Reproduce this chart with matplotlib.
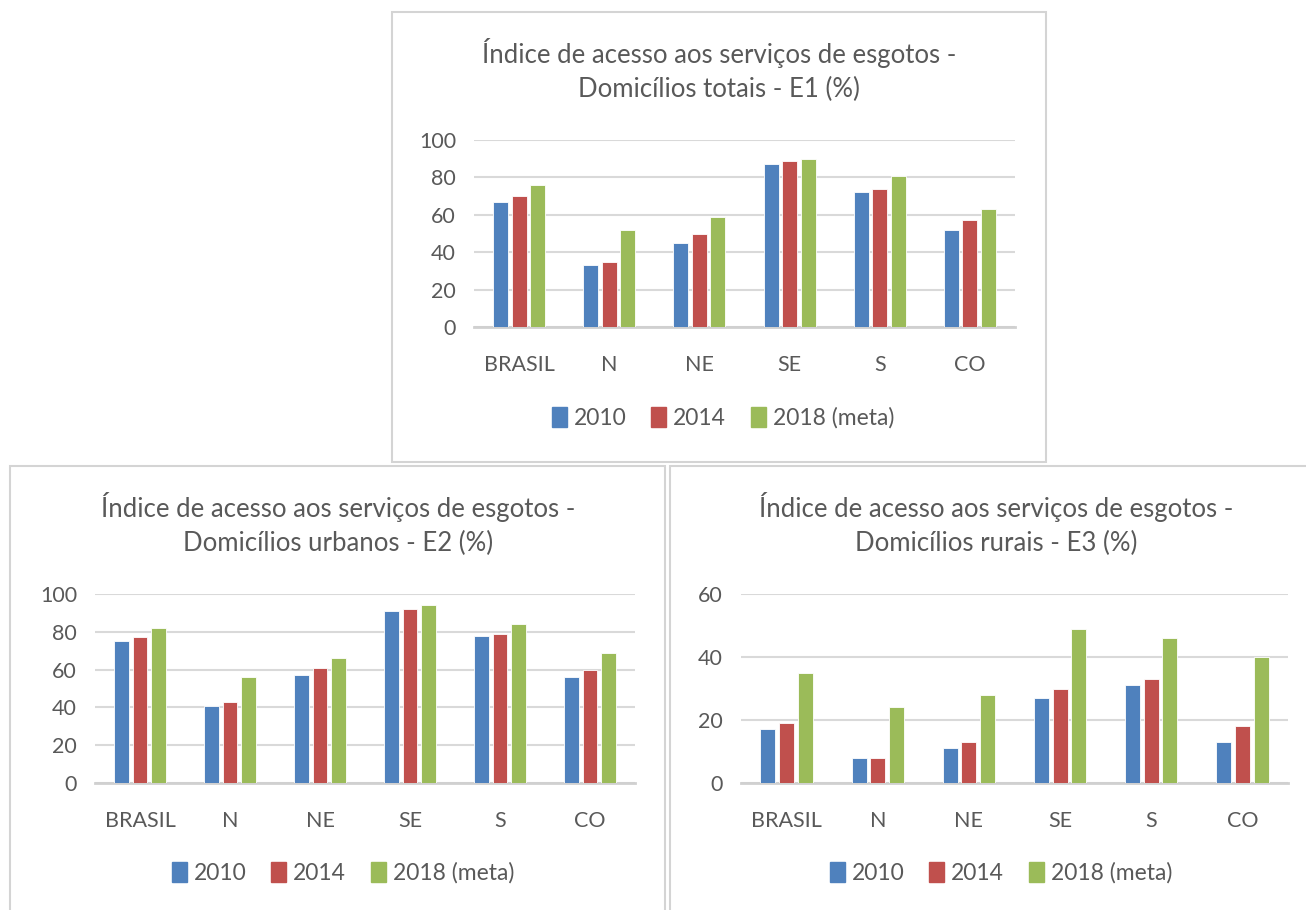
import matplotlib
matplotlib.use("Agg")
import matplotlib.pyplot as plt
from matplotlib.patches import Rectangle, Patch
import numpy as np

plt.rcParams['font.family'] = ['Lato', 'DejaVu Sans']

regions = ['BRASIL', 'N', 'NE', 'SE', 'S', 'CO']
series = ['2010', '2014', '2018 (meta)']
colors = ['#4F81BD', '#C0504D', '#9BBB59']

e1_2010 = [67, 33, 45, 87, 72, 52]
e1_2014 = [70, 35, 50, 89, 74, 57]
e1_2018 = [76, 52, 59, 90, 81, 63]

e2_2010 = [75, 41, 57, 91, 78, 56]
e2_2014 = [77, 43, 61, 92, 79, 60]
e2_2018 = [82, 56, 66, 94, 84, 69]

e3_2010 = [17, 8, 11, 27, 31, 13]
e3_2014 = [19, 8, 13, 30, 33, 18]
e3_2018 = [35, 24, 28, 49, 46, 40]

W, H = 1306, 910
TXT = '#595959'
fig = plt.figure(figsize=(W / 100, H / 100), dpi=100)


def px_axes(l, t, r, b):
    return fig.add_axes([l / W, 1 - b / H, (r - l) / W, (b - t) / H])


def panel_box(l, t, r, b):
    fig.patches.append(Rectangle((l / W, 1 - b / H), (r - l) / W, (b - t) / H,
                                 transform=fig.transFigure, fill=False,
                                 edgecolor='#d4d4d4', lw=1.5))


def draw(box, plot, title, data, ymax, step, cx, leg_xy):
    panel_box(*box)
    ax = px_axes(*plot)
    x = np.arange(len(regions))
    for i, vals in enumerate(data):
        ax.bar(x + (i - 1) * 0.205, vals, 0.165, color=colors[i],
               edgecolor='white', linewidth=0.6, label=series[i], zorder=3)
    ax.set_xlim(-0.5, len(regions) - 0.5)
    ax.set_ylim(0, ymax)
    ax.set_yticks(np.arange(0, ymax + 1, step))
    ax.set_xticks(x)
    ax.set_xticklabels(regions)
    ax.tick_params(length=0, labelsize=15.5, colors=TXT)
    ax.tick_params(axis='x', pad=20)
    ax.tick_params(axis='y', pad=13)
    ax.grid(axis='y', color='#d9d9d9', lw=1.5, zorder=0)
    for s in ['top', 'right', 'left']:
        ax.spines[s].set_visible(False)
    ax.spines['bottom'].set_color('#d0d0d0')
    ax.spines['bottom'].set_linewidth(2)
    l, t, r, b = box
    fig.text(cx / W, 1 - (t + 58) / H, title, ha='center', va='center',
             fontsize=18.5, color=TXT, linespacing=1.45)
    handles = [Patch(color=c) for c in colors]
    fig.legend(handles, series, loc='center', ncol=3, frameon=False,
               bbox_to_anchor=(leg_xy[0] / W, 1 - leg_xy[1] / H),
               fontsize=16.5, labelcolor=TXT,
               handlelength=0.65, handleheight=1.0, handletextpad=0.3,
               columnspacing=1.1)
    return ax


draw((392, 12, 1046, 462), (474, 140, 1015, 327),
     'Índice de acesso aos serviços de esgotos -\nDomicílios totais - E1 (%)',
     [e1_2010, e1_2014, e1_2018], 100, 20, 719, (723, 418))
draw((10, 466, 665, 912), (95, 594, 635, 783),
     'Índice de acesso aos serviços de esgotos -\nDomicílios urbanos - E2 (%)',
     [e2_2010, e2_2014, e2_2018], 100, 20, 338, (343, 873))
draw((670, 466, 1310, 912), (741, 594, 1288, 783),
     'Índice de acesso aos serviços de esgotos -\nDomicílios rurais - E3 (%)',
     [e3_2010, e3_2014, e3_2018], 60, 20, 996, (1001, 873))

fig.savefig('out.png', dpi=100)
